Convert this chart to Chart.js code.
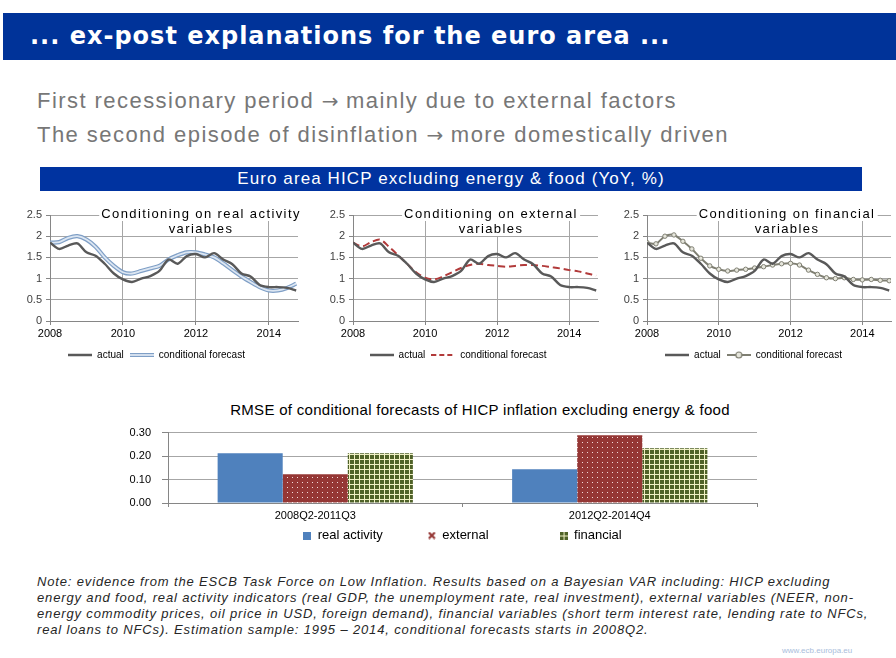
<!DOCTYPE html>
<html>
<head>
<meta charset="utf-8">
<script src="https://cdn.jsdelivr.net/npm/chart.js@4.4.1/dist/chart.umd.min.js"></script>
<style>
  body { margin: 0; width: 896px; height: 658px; background: #fff; position: relative; overflow: hidden;
         font-family: "Liberation Sans", Arial, sans-serif; }
  .abs { position: absolute; }
  #topbar { left: 3px; top: 13px; width: 893px; height: 47px; background: #003399; }
  #topbar span { position: absolute; left: 27px; top: 0; color: #fff;
                 font: bold 24px "DejaVu Sans", Verdana, sans-serif; line-height: 47px; letter-spacing: 1px; }
  #bullets { left: 37px; top: 84px; font-size: 22px; line-height: 33px; color: #777; white-space: nowrap;
             letter-spacing: 1.45px; }
  #bullets .arr { font-family: "DejaVu Sans", sans-serif; font-size: 20px; letter-spacing: 0; }
  #banner { left: 40px; top: 167px; width: 822px; height: 24px; background: #0033a0; color: #fff;
            font-size: 17px; line-height: 24px; text-align: center; letter-spacing: 1.1px; }
  .ptitle { top: 206px; transform: translateX(-50%); text-align: center; font-size: 13px; line-height: 15px;
            letter-spacing: 1.4px; color: #000; white-space: nowrap; }
  .ptitle span { background: #fff; padding: 0 2px; }
  #bartitle { left: 480px; top: 401px; transform: translateX(-50%); font-size: 15px; letter-spacing: 0.3px;
              color: #000; white-space: nowrap; }
  #note { left: 37px; top: 574px; font-style: italic; font-size: 13px; line-height: 16px; letter-spacing: 0.85px;
          color: #262626; white-space: nowrap; }
  #footer { left: 782px; top: 646px; font-size: 8px; color: #a9bddb; }
  canvas { position: absolute; }
</style>
</head>
<body>
<div id="topbar" class="abs"><span>... ex-post explanations for the euro area ...</span></div>
<div id="bullets" class="abs">First recessionary period <span class="arr">→</span> mainly due to external factors<br>The second episode of disinflation <span class="arr">→</span> more domestically driven</div>
<div id="banner" class="abs">Euro area HICP excluding energy &amp; food (YoY, %)</div>

<canvas id="panel1" width="290" height="167" style="left:15px;top:203px"></canvas>
<canvas id="panel2" width="290" height="167" style="left:318px;top:203px"></canvas>
<canvas id="panel3" width="284" height="167" style="left:612px;top:203px"></canvas>
<div class="abs ptitle" style="left:201px"><span>Conditioning on real activity</span><br><span>variables</span></div>
<div class="abs ptitle" style="left:491px"><span>Conditioning on external</span><br><span>variables</span></div>
<div class="abs ptitle" style="left:787px"><span>Conditioning on financial</span><br><span>variables</span></div>

<div id="bartitle" class="abs">RMSE of conditional forecasts of HICP inflation excluding energy &amp; food</div>
<canvas id="rmse" width="680" height="137" style="left:95px;top:415px"></canvas>

<div id="note" class="abs">Note: evidence from the ESCB Task Force on Low Inflation. Results based on a Bayesian VAR including: HICP excluding<br>energy and food, real activity indicators (real GDP, the unemployment rate, real investment), external variables (NEER, non-<br>energy commodity prices, oil price in USD, foreign demand), financial variables (short term interest rate, lending rate to NFCs,<br>real loans to NFCs). Estimation sample: 1995 – 2014, conditional forecasts starts in 2008Q2.</div>
<div id="footer" class="abs">www.ecb.europa.eu</div>

<script>
// quarterly, 2008Q1 .. 2014Q4
const quarters = [2008.00, 2008.25, 2008.50, 2008.75, 2009.00, 2009.25, 2009.50, 2009.75,
                  2010.00, 2010.25, 2010.50, 2010.75, 2011.00, 2011.25, 2011.50, 2011.75,
                  2012.00, 2012.25, 2012.50, 2012.75, 2013.00, 2013.25, 2013.50, 2013.75,
                  2014.00, 2014.25, 2014.50, 2014.75];
const actual = [1.85, 1.70, 1.78, 1.83, 1.62, 1.54, 1.35, 1.12, 0.98, 0.92, 1.00, 1.06, 1.18, 1.45, 1.35, 1.53,
                1.58, 1.50, 1.60, 1.45, 1.34, 1.12, 1.05, 0.85, 0.80, 0.80, 0.78, 0.72];
const forecastRealActivity = [1.85, 1.86, 1.96, 2.00, 1.92, 1.75, 1.50, 1.30, 1.15, 1.12, 1.18, 1.24, 1.30, 1.45,
                              1.55, 1.62, 1.62, 1.57, 1.50, 1.36, 1.20, 1.05, 0.92, 0.80, 0.72, 0.72, 0.78, 0.88];
const forecastExternal = [1.85, 1.76, 1.86, 1.92, 1.75, 1.55, 1.35, 1.15, 1.02, 0.98, 1.05, 1.15, 1.25, 1.32,
                          1.35, 1.32, 1.30, 1.28, 1.30, 1.32, 1.32, 1.30, 1.27, 1.24, 1.20, 1.17, 1.12, 1.07];
const forecastFinancial = [1.85, 1.82, 2.00, 2.03, 1.88, 1.70, 1.48, 1.30, 1.22, 1.18, 1.20, 1.22, 1.25, 1.28,
                           1.32, 1.35, 1.36, 1.32, 1.20, 1.10, 1.02, 1.00, 1.02, 0.98, 0.97, 0.98, 0.96, 0.95];
const yearTicks = [2008, 2010, 2012, 2014];

const periods = ['2008Q2-2011Q3', '2012Q2-2014Q4'];
const rmseRealActivity = [0.212, 0.144];
const rmseExternal = [0.122, 0.289];
const rmseFinancial = [0.212, 0.233];
const barLegendText = ['real activity\u2003\u2003\u2003', 'external\u2003\u2003\u2003\u2003\u2003', 'financial'];

const fontFamily = '"Liberation Sans", Arial, sans-serif';
const gridGrey = '#a6a6a6';
const axisGrey = '#868686';

const points = (ys) => quarters.map((q, i) => ({ x: q, y: ys[i] }));

function icon(w, h, draw) {
  const c = document.createElement('canvas');
  c.width = w; c.height = h;
  draw(c.getContext('2d'), w, h);
  return c;
}
function lineIcon(color, width, dash) {
  return icon(24, 10, (g, w, h) => {
    g.strokeStyle = color; g.lineWidth = width; g.setLineDash(dash || []);
    g.beginPath(); g.moveTo(0, h / 2); g.lineTo(w, h / 2); g.stroke();
  });
}

const iconActual = lineIcon('#595959', 2.5);
const iconReal = icon(24, 10, (g, w, h) => {
  g.strokeStyle = '#7f9fc6'; g.lineWidth = 4; g.beginPath(); g.moveTo(0, h / 2); g.lineTo(w, h / 2); g.stroke();
  g.strokeStyle = '#dce6f2'; g.lineWidth = 1.8; g.beginPath(); g.moveTo(0, h / 2); g.lineTo(w, h / 2); g.stroke();
});
const iconExternal = lineIcon('#b23a3a', 2, [5, 3]);
const iconFinancial = icon(24, 10, (g, w, h) => {
  g.strokeStyle = '#7f7f72'; g.lineWidth = 2; g.beginPath(); g.moveTo(0, h / 2); g.lineTo(w, h / 2); g.stroke();
  g.fillStyle = '#e6e6dc'; g.lineWidth = 1.2; g.beginPath(); g.arc(w / 2, h / 2, 3, 0, Math.PI * 2); g.fill(); g.stroke();
});

function panel(id, datasets, icons, padRight) {
  return new Chart(document.getElementById(id), {
    type: 'line',
    data: { datasets },
    options: {
      responsive: false,
      animation: false,
      layout: { padding: { top: 12, right: padRight, left: 0, bottom: 0 } },
      elements: { point: { radius: 0 }, line: { tension: 0.3 } },
      plugins: {
        tooltip: { enabled: false },
        legend: {
          position: 'bottom',
          labels: {
            usePointStyle: true,
            pointStyleWidth: 24,
            padding: 6,
            color: '#000',
            font: { family: fontFamily, size: 10 },
            filter: (item) => item.text !== '',
            generateLabels: (chart) => {
              const items = Chart.defaults.plugins.legend.labels.generateLabels(chart);
              items.sort((a, b) => a.datasetIndex - b.datasetIndex);
              return items.map((item) => Object.assign(item, { pointStyle: icons[item.datasetIndex] }));
            }
          }
        }
      },
      scales: {
        x: {
          type: 'linear', min: 2008, max: 2014.8,
          afterBuildTicks: (axis) => { axis.ticks = yearTicks.map((v) => ({ value: v })); },
          afterFit: (s) => { s.height = 23; },
          border: { color: axisGrey, width: 1 },
          grid: { color: gridGrey, borderDash: [4, 3], tickLength: 4, tickColor: axisGrey, tickBorderDash: [] },
          ticks: { color: '#000', padding: 2, maxRotation: 0, font: { family: fontFamily, size: 11 },
                   callback: (v) => String(v) }
        },
        y: {
          min: 0, max: 2.5,
          afterFit: (s) => { s.width = 35; },
          border: { color: axisGrey, width: 1 },
          grid: { color: gridGrey, borderDash: [4, 3], tickLength: 4, tickColor: axisGrey, tickBorderDash: [] },
          ticks: { stepSize: 0.5, color: '#404040', padding: 4, font: { family: fontFamily, size: 11 },
                   callback: (v) => String(+v.toFixed(1)) }
        }
      }
    }
  });
}

const actualSet = () => ({ label: 'actual', data: points(actual), borderColor: '#595959', borderWidth: 2.4, order: 0 });

panel('panel1', [
  actualSet(),
  { label: 'conditional forecast', data: points(forecastRealActivity), borderColor: '#7f9fc6', borderWidth: 4.2, order: 2 },
  { label: '', data: points(forecastRealActivity), borderColor: '#dce6f2', borderWidth: 1.8, order: 1 }
], [iconActual, iconReal, null], 7);

panel('panel2', [
  actualSet(),
  { label: 'conditional forecast', data: points(forecastExternal), borderColor: '#b23a3a', borderWidth: 2, borderDash: [7, 4], order: 1 }
], [iconActual, iconExternal], 10);

panel('panel3', [
  actualSet(),
  { label: 'conditional forecast', data: points(forecastFinancial), borderColor: '#7f7f72', borderWidth: 2,
    pointRadius: 2.2, pointBackgroundColor: '#e6e6dc', pointBorderColor: '#7f7f72', pointBorderWidth: 1, order: 1 }
], [iconActual, iconFinancial], 1);

// bar fills
function pattern(size, draw) {
  const c = document.createElement('canvas');
  c.width = size; c.height = size;
  const g = c.getContext('2d');
  draw(g, size);
  return g.createPattern(c, 'repeat');
}
const redDots = pattern(5, (g, s) => {
  g.fillStyle = '#953735'; g.fillRect(0, 0, s, s);
  g.fillStyle = '#f2dcdb'; g.fillRect(2, 2, 1, 1);
});
const greenGrid = pattern(5, (g, s) => {
  g.fillStyle = '#f0f0c4'; g.fillRect(0, 0, s, s);
  g.fillStyle = '#4f6228'; g.fillRect(0, 0, 4, 4);
});

const barIcons = [
  icon(8, 8, (g) => { g.fillStyle = '#4f81bd'; g.fillRect(0, 0, 8, 8); }),
  icon(8, 8, (g) => { g.strokeStyle = '#953735'; g.lineWidth = 2.2; g.beginPath();
                      g.moveTo(1, 1); g.lineTo(7, 7); g.moveTo(7, 1); g.lineTo(1, 7); g.stroke(); }),
  icon(8, 8, (g) => { g.fillStyle = greenGrid; g.fillRect(0, 0, 8, 8); })
];

new Chart(document.getElementById('rmse'), {
  type: 'bar',
  data: {
    labels: periods,
    datasets: [
      { label: 'real activity', data: rmseRealActivity, backgroundColor: '#4f81bd' },
      { label: 'external', data: rmseExternal, backgroundColor: redDots },
      { label: 'financial', data: rmseFinancial, backgroundColor: greenGrid }
    ]
  },
  options: {
    responsive: false,
    animation: false,
    categoryPercentage: 0.663,
    barPercentage: 1,
    layout: { padding: { top: 8, right: 18, left: 0, bottom: 0 } },
    plugins: {
      tooltip: { enabled: false },
      legend: {
        position: 'bottom',
        fullSize: false,
        labels: {
          usePointStyle: true,
          pointStyleWidth: 8,
          padding: 6,
          color: '#000',
          font: { family: fontFamily, size: 13 },
          generateLabels: (chart) => {
            const items = Chart.defaults.plugins.legend.labels.generateLabels(chart);
            return items.map((item) => Object.assign(item, {
              pointStyle: barIcons[item.datasetIndex],
              text: barLegendText[item.datasetIndex]
            }));
          }
        }
      }
    },
    scales: {
      x: {
        afterFit: (s) => { s.height = 20; },
        border: { color: axisGrey },
        grid: { drawOnChartArea: false, tickLength: 4, color: axisGrey },
        ticks: { color: '#000', padding: 2, font: { family: fontFamily, size: 11 } }
      },
      y: {
        min: 0, max: 0.3,
        afterFit: (s) => { s.width = 73; },
        border: { color: axisGrey },
        grid: { color: gridGrey, borderDash: [4, 3], tickLength: 6, tickColor: axisGrey, tickBorderDash: [] },
        ticks: { stepSize: 0.1, padding: 11, color: '#000', font: { family: fontFamily, size: 11 },
                 callback: (v) => v.toFixed(2) }
      }
    }
  }
});
</script>
</body>
</html>
